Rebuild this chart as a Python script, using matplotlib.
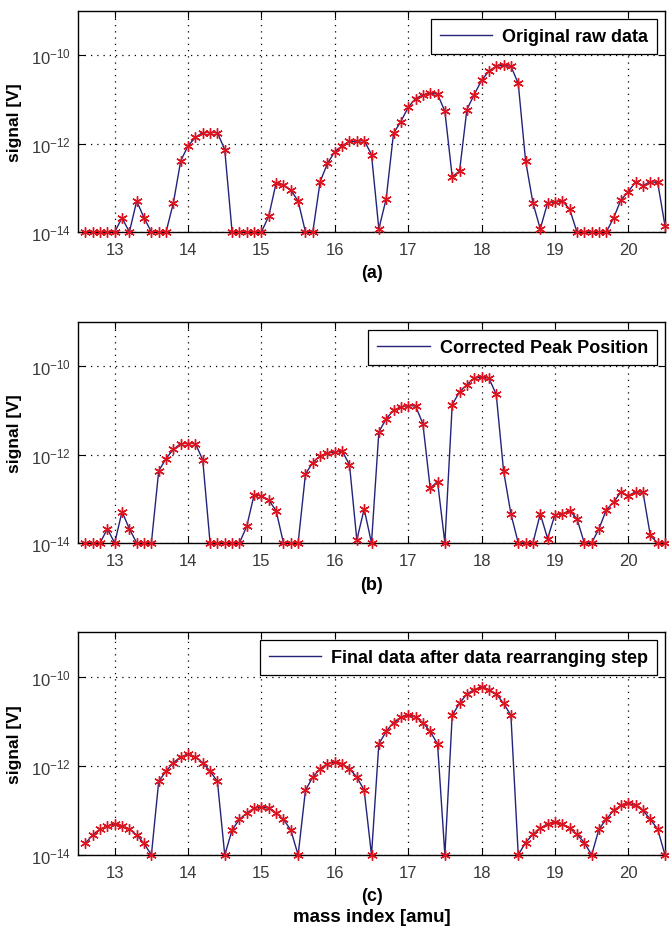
import numpy as np
import matplotlib
matplotlib.use("Agg")
import matplotlib.pyplot as plt

plt.rcParams['font.family'] = ['Liberation Sans', 'DejaVu Sans']
plt.rcParams['mathtext.fontset'] = 'custom'
plt.rcParams['mathtext.rm'] = 'Liberation Sans'
plt.rcParams['mathtext.default'] = 'regular'

# mass index grid (amu)
mass = np.round(np.arange(12.6, 20.55, 0.1), 1)

# log10 of signal [V]
raw_log = [-14, -14, -14, -14, -14, -13.68, -14, -13.3, -13.68, -14,
           -14, -14, -13.34, -12.39, -12.05, -11.86, -11.75, -11.75, -11.75, -12.14,
           -14, -14, -14, -14, -14, -13.64, -12.89, -12.93, -13.05, -13.3,
           -14, -14, -12.86, -12.45, -12.18, -12.05, -11.95, -11.95, -11.93, -12.25,
           -13.93, -13.25, -11.77, -11.5, -11.18, -10.98, -10.9, -10.86, -10.88, -11.27,
           -12.75, -12.62, -11.23, -10.89, -10.57, -10.36, -10.25, -10.23, -10.25, -10.64,
           -12.39, -13.34, -13.93, -13.34, -13.32, -13.3, -13.48, -14, -14, -14,
           -14, -14, -13.68, -13.27, -13.09, -12.86, -12.95, -12.86, -12.88, -13.86]

corr_log = [-14, -14, -14, -13.68, -14, -13.29, -13.68, -14, -14, -14,
            -12.37, -12.09, -11.88, -11.75, -11.75, -11.75, -12.12, -14, -14, -14,
            -14, -14, -13.62, -12.91, -12.93, -13.03, -13.27, -14, -14, -14,
            -12.44, -12.18, -12.03, -11.97, -11.94, -11.92, -12.23, -13.93, -13.23, -14,
            -11.49, -11.19, -11.0, -10.92, -10.89, -10.9, -11.3, -12.76, -12.61, -14,
            -10.87, -10.58, -10.42, -10.27, -10.25, -10.27, -10.64, -12.37, -13.34, -14,
            -14, -14, -13.34, -13.9, -13.36, -13.34, -13.27, -13.45, -14, -14,
            -13.68, -13.25, -13.08, -12.84, -12.93, -12.84, -12.85, -13.83, -14, -14]

final_log = [-13.74, -13.55, -13.42, -13.36, -13.3, -13.36, -13.42, -13.55, -13.74, -14,
             -12.35, -12.12, -11.93, -11.8, -11.74, -11.8, -11.93, -12.12, -12.35, -14,
             -13.44, -13.2, -13.06, -12.95, -12.93, -12.95, -13.06, -13.2, -13.44, -14,
             -12.55, -12.25, -12.07, -11.95, -11.92, -11.95, -12.07, -12.25, -12.55, -14,
             -11.51, -11.23, -11.03, -10.91, -10.85, -10.91, -11.03, -11.23, -11.51, -14,
             -10.87, -10.6, -10.39, -10.29, -10.23, -10.29, -10.39, -10.6, -10.87, -14,
             -13.72, -13.54, -13.4, -13.3, -13.27, -13.3, -13.4, -13.54, -13.72, -14,
             -13.42, -13.2, -13.0, -12.89, -12.84, -12.89, -13.0, -13.2, -13.42, -14]

series = [raw_log, corr_log, final_log]
legend_labels = ['Original raw data', 'Corrected Peak Position',
                 'Final data after data rearranging step']
panel_tags = ['(a)', '(b)', '(c)']
xticks = [13, 14, 15, 16, 17, 18, 19, 20]
yticks = [1e-14, 1e-12, 1e-10]
ytick_labels = [r'$10^{-14}$', r'$10^{-12}$', r'$10^{-10}$']

W, H = 669, 929
fig = plt.figure(figsize=(W / 100, H / 100), dpi=100)

# axes boxes in pixels: (top, bottom)
boxes = [(12, 233), (323, 544), (633, 856)]
left, right = 78, 665

for i, (top, bot) in enumerate(boxes):
    ax = fig.add_axes([left / W, 1 - bot / H, (right - left) / W, (bot - top) / H])
    y = 10.0 ** np.array(series[i])
    ax.plot(mass, y, color='#23237a', lw=1.0, label=legend_labels[i], zorder=3)
    ax.plot(mass, y, ls='none', marker=(6, 2, 0), ms=7.5, mew=1.0,
            mec='#dc1420', mfc='none', clip_on=False, zorder=4)
    ax.set_yscale('log')
    ax.set_xlim(12.5, 20.5)
    ax.set_ylim(1e-14, 1e-9)
    ax.set_xticks(xticks)
    ax.set_xticklabels([str(t) for t in xticks])
    ax.set_yticks(yticks)
    ax.set_yticklabels(ytick_labels)
    ax.yaxis.set_minor_locator(matplotlib.ticker.NullLocator())
    ax.grid(True, which='major', color='black', ls=(0, (1, 4)), lw=0.9)
    ax.tick_params(direction='in', top=True, right=True, length=5,
                   labelsize=12, labelcolor='#3a3a3a', width=0.8)
    ax.tick_params(axis='x', pad=7.5)
    ax.tick_params(axis='y', pad=5)
    for s in ax.spines.values():
        s.set_linewidth(1.0)
    ax.set_ylabel('signal [V]', fontsize=12.5, fontweight='bold')
    ax.yaxis.set_label_coords(-(left - 22) / (right - left), 0.5)
    leg = ax.legend(loc='upper right', fancybox=False, framealpha=1,
                    edgecolor='black', handlelength=2.9, handletextpad=0.55,
                    borderpad=0.5, borderaxespad=0.45,
                    prop={'weight': 'bold', 'size': 13})
    leg.get_frame().set_linewidth(0.9)
    fig.text((left + right) / 2 / W, 1 - (bot + 41) / H, panel_tags[i],
             ha='center', va='center', fontsize=13, fontweight='bold')

fig.text((left + right) / 2 / W, 1 - 918 / H, 'mass index [amu]',
         ha='center', va='center', fontsize=13.5, fontweight='bold')

fig.savefig('out.png', dpi=100)
